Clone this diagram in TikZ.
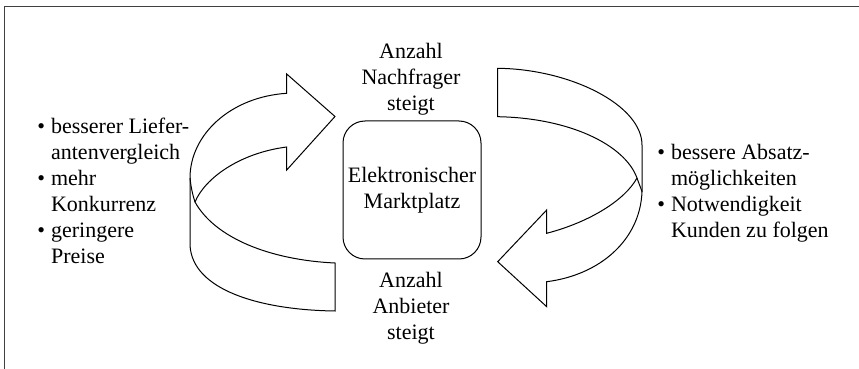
\documentclass[tikz,border=0pt]{standalone}
\usepackage{fontspec}
\setmainfont{Liberation Serif}
\usetikzlibrary{positioning}

\begin{document}
\begin{tikzpicture}[x=0.5pt, y=-0.5pt,
    txt/.style={align=center, inner sep=0pt, font=\fontsize{11}{13}\selectfont},
    liste/.style={anchor=west, inner sep=0pt, font=\fontsize{11}{13}\selectfont},
    pfeil/.style={draw=black, line width=0.5pt, line join=miter}]
    \useasboundingbox (0,0) rectangle (859,369);

    % Frame (only top and left edge are visible)
    \draw[line width=0.7pt, black!75] (859,6.5) -- (4.5,6.5) -- (4.5,369);

    % Marketplace in the middle
    \node[txt, draw, line width=0.5pt, rounded corners=11pt,
          minimum width=69pt, minimum height=69pt] (markt) at (412,190) {Elektronischer\\Marktplatz};

    % Labels above and below
    \node[txt] (nachfrager) at (411,79.5) {Anzahl\\Nachfrager\\steigt};
    \node[txt] (anbieter) at (411,308.5) {Anzahl\\Anbieter\\steigt};

    % Left ribbon arrow (pointing up to the right)
    \draw[pfeil] (286.7,93.3) -- (286.7,74) -- (335,116.5) -- (286.7,170) -- (286.7,147)
        .. controls (240,153) and (205,178) .. (195,202)
        .. controls (215,238) and (270,260) .. (335,263) -- (335,311)
        .. controls (260,310) and (192,290) .. (190,245) -- (190,178)
        .. controls (190,135) and (230,97) .. cycle;
    \draw[pfeil] (190,178) .. controls (191,188) and (193,196) .. (195,202);

    % Right ribbon arrow (pointing down to the left)
    \draw[pfeil] (497.7,68.3) .. controls (570,69) and (642,105) .. (642,145) -- (642,192)
        .. controls (640,240) and (600,275) .. (546.7,281.7) -- (546.7,306.7)
        -- (497.7,261.7) -- (546.7,210) -- (546.7,233.3)
        .. controls (590,222) and (625,200) .. (637,178)
        .. controls (625,145) and (570,118) .. (497.7,116.7) -- cycle;
    \draw[pfeil] (637,178) .. controls (639,184) and (641,188) .. (642,192);

    % Buyer side (left)
    \node[liste] (kaeufer) at (37,193.5) {%
        \begin{tabular}{@{}l@{\hspace{3pt}}l@{}}
        \textbullet & besserer Liefer-\\
                    & antenvergleich\\
        \textbullet & mehr\\
                    & Konkurrenz\\
        \textbullet & geringere\\
                    & Preise
        \end{tabular}};

    % Seller side (right)
    \node[liste] (verkaeufer) at (657,193.5) {%
        \begin{tabular}{@{}l@{\hspace{3pt}}l@{}}
        \textbullet & bessere Absatz-\\
                    & möglichkeiten\\
        \textbullet & Notwendigkeit\\
                    & Kunden zu folgen
        \end{tabular}};
\end{tikzpicture}
\end{document}
